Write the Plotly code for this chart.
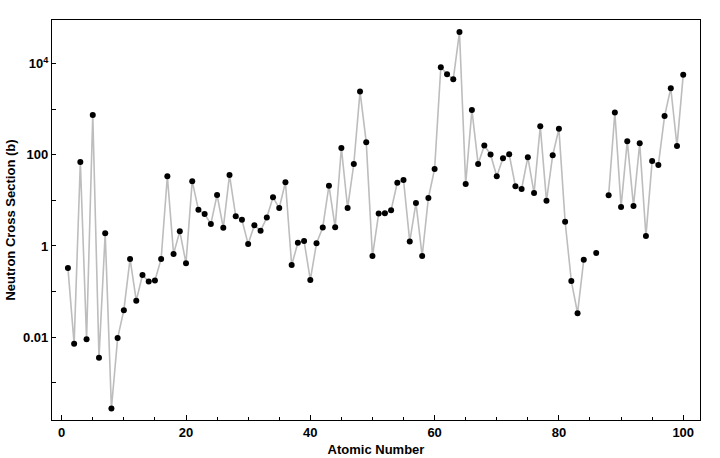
import plotly.graph_objects as go

atomic_number = list(range(1, 101))
cross_section = [
    0.33, 0.0071, 70, 0.0090, 750, 0.0035, 1.9, 0.00027, 0.0095, 0.039,
    0.52, 0.063, 0.23, 0.165, 0.175, 0.52, 34, 0.67, 2.1, 0.42,
    26.5, 6.2, 5.0, 3.05, 13.2, 2.5, 36, 4.5, 3.75, 1.1,
    2.85, 2.15, 4.2, 11.7, 6.8, 25, 0.38, 1.17, 1.28, 0.18,
    1.15, 2.55, 21, 2.56, 142, 6.8, 63, 2450, 190, 0.6,
    5.15, 5.2, 6.1, 24.5, 28, 1.25, 8.8, 0.6, 11.3, 49,
    8400, 5900, 4550, 49500, 23, 970, 63, 160, 102, 34,
    84, 103, 20.5, 17.8, 89, 14.5, 425, 9.8, 98, 372,
    3.4, 0.17, 0.0335, 0.5, None, 0.7, None, 12.9, 850, 7.2,
    200, 7.5, 180, 1.65, 73, 60, 710, 2900, 157, 5700,
]

x_major = [0, 20, 40, 60, 80, 100]
x_minor = [5, 10, 15, 25, 30, 35, 45, 50, 55, 65, 70, 75, 85, 90, 95]
y_major = [0.01, 1, 100, 1e4]
y_major_text = ["0.01", "1", "100", "10<sup>4</sup>"]
y_minor = [0.001, 0.1, 10, 1000]

font_family = "Liberation Sans, Arial, sans-serif"

fig = go.Figure()
fig.add_trace(go.Scatter(
    x=atomic_number, y=cross_section, mode="lines+markers",
    connectgaps=False,
    line=dict(color="#bdbdbd", width=1.6),
    marker=dict(color="black", size=6),
    showlegend=False,
))

fig.update_layout(
    width=720, height=458,
    margin=dict(l=52, r=20, t=20, b=38),
    paper_bgcolor="white", plot_bgcolor="white",
    font=dict(family=font_family, size=13, color="black"),
    xaxis=dict(
        range=[-1.56, 102.7], showgrid=False, zeroline=False, automargin=False,
        showline=True, linecolor="black", linewidth=1.3, mirror=True,
        tickmode="array", tickvals=x_major,
        ticktext=["<b>%d</b>" % v for v in x_major],
        ticks="inside", ticklen=5, tickcolor="black", tickwidth=1,
        minor=dict(tickvals=x_minor, ticks="inside", ticklen=3,
                   tickcolor="black", tickwidth=1, showgrid=False),
        title=dict(text="<b>Atomic Number</b>", standoff=6, font=dict(size=13)),
        tickfont=dict(size=13),
    ),
    yaxis=dict(
        type="log", range=[-3.82, 4.96], showgrid=False, zeroline=False, automargin=False,
        showline=True, linecolor="black", linewidth=1.3, mirror=True,
        tickmode="array", tickvals=y_major,
        ticktext=["<b>" + t + "</b>" for t in y_major_text],
        ticks="inside", ticklen=4, tickcolor="black", tickwidth=1,
        minor=dict(tickvals=y_minor, ticks="inside", ticklen=4,
                   tickcolor="black", tickwidth=1, showgrid=False),
        title=dict(text="<b>Neutron Cross Section (b)</b>", standoff=4, font=dict(size=13)),
        tickfont=dict(size=13),
    ),
)

fig.write_html("out.html")
